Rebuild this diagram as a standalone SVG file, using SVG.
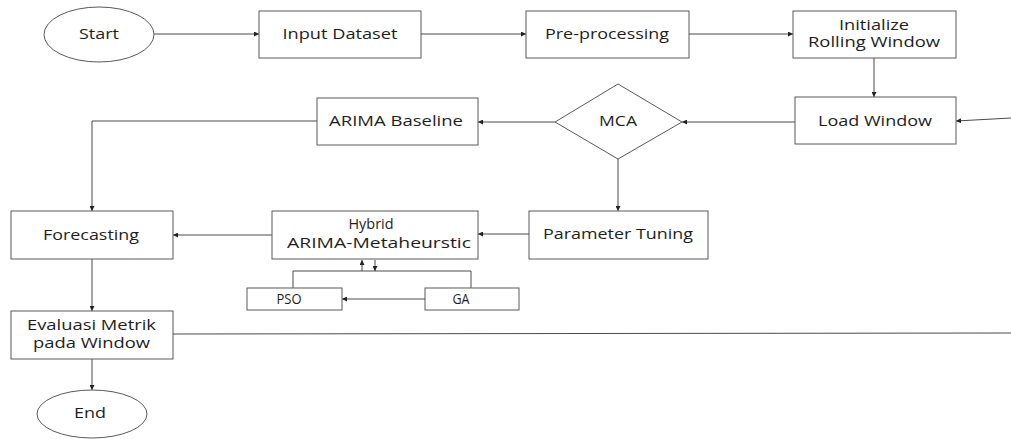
<svg xmlns="http://www.w3.org/2000/svg" width="1011" height="439" viewBox="0 0 1011 439">
  <style>
    .box { fill: #ffffff; stroke: #5a5a5a; stroke-width: 1; }
    .lbl { font-family: "Open Sans", "Liberation Sans", sans-serif; font-size: 14px; fill: #1e1e1e; text-anchor: middle; }
    .wire { fill: none; stroke: #4a4a4a; stroke-width: 1; }
  </style>
  <defs>
    <marker id="arrow" viewBox="0 0 10 10" refX="10" refY="5" markerWidth="5" markerHeight="5" orient="auto" markerUnits="userSpaceOnUse">
      <path d="M0,0 L10,5 L0,10 z" fill="#222222"/>
    </marker>
  </defs>
  <rect width="1011" height="439" fill="#ffffff"/>

  <!-- connectors -->
  <g id="connectors">
    <line class="wire" x1="154" y1="34" x2="259" y2="34" marker-end="url(#arrow)"/>
    <line class="wire" x1="421" y1="34" x2="526" y2="34" marker-end="url(#arrow)"/>
    <line class="wire" x1="689" y1="34" x2="793" y2="34" marker-end="url(#arrow)"/>
    <line class="wire" x1="874" y1="58" x2="874" y2="97" marker-end="url(#arrow)"/>
    <line class="wire" x1="1011" y1="118" x2="956" y2="121" marker-end="url(#arrow)"/>
    <line class="wire" x1="795" y1="122" x2="682" y2="122" marker-end="url(#arrow)"/>
    <line class="wire" x1="555" y1="122" x2="478" y2="122" marker-end="url(#arrow)"/>
    <polyline class="wire" points="317,121 92,121 92,211" marker-end="url(#arrow)"/>
    <line class="wire" x1="618" y1="159" x2="618" y2="211" marker-end="url(#arrow)"/>
    <line class="wire" x1="529" y1="234" x2="478" y2="234" marker-end="url(#arrow)"/>
    <line class="wire" x1="272" y1="235" x2="173" y2="235" marker-end="url(#arrow)"/>
    <line class="wire" x1="92" y1="259" x2="92" y2="311" marker-end="url(#arrow)"/>
    <line class="wire" x1="92" y1="359" x2="92" y2="390" marker-end="url(#arrow)"/>
    <line class="wire" x1="173" y1="334" x2="1011" y2="333"/>
    <polyline class="wire" points="293,288 293,271 471,271 471,288"/>
    <line class="wire" x1="362" y1="271" x2="362" y2="260" marker-end="url(#arrow)"/>
    <line class="wire" x1="375" y1="260" x2="375" y2="271" marker-end="url(#arrow)"/>
    <line class="wire" x1="425" y1="299" x2="342" y2="299" marker-end="url(#arrow)"/>
  </g>

  <g id="start">
    <ellipse class="box" cx="99" cy="34.5" rx="55" ry="27.5"/>
    <text class="lbl" x="99" y="39" textLength="40" lengthAdjust="spacingAndGlyphs">Start</text>
  </g>
  <g id="input-dataset">
    <rect class="box" x="259" y="11" width="162" height="47"/>
    <text class="lbl" x="340" y="39" textLength="115" lengthAdjust="spacingAndGlyphs">Input Dataset</text>
  </g>
  <g id="pre-processing">
    <rect class="box" x="526" y="11" width="163" height="47"/>
    <text class="lbl" x="607" y="39" textLength="124" lengthAdjust="spacingAndGlyphs">Pre-processing</text>
  </g>
  <g id="init-window">
    <rect class="box" x="793" y="11" width="163" height="47"/>
    <text class="lbl" x="874" y="30" textLength="70" lengthAdjust="spacingAndGlyphs">Initialize</text>
    <text class="lbl" x="874" y="47" textLength="132" lengthAdjust="spacingAndGlyphs">Rolling Window</text>
  </g>
  <g id="load-window">
    <rect class="box" x="795" y="97" width="161" height="47"/>
    <text class="lbl" x="875" y="126" textLength="114" lengthAdjust="spacingAndGlyphs">Load Window</text>
  </g>
  <g id="mca">
    <polygon class="box" points="618,84 682,122 618,159 555,122"/>
    <text class="lbl" x="618" y="126" textLength="38" lengthAdjust="spacingAndGlyphs">MCA</text>
  </g>
  <g id="arima-baseline">
    <rect class="box" x="317" y="98" width="161" height="47"/>
    <text class="lbl" x="396" y="126" textLength="134" lengthAdjust="spacingAndGlyphs">ARIMA Baseline</text>
  </g>
  <g id="parameter-tuning">
    <rect class="box" x="529" y="211" width="179" height="48"/>
    <text class="lbl" x="618" y="239" textLength="150" lengthAdjust="spacingAndGlyphs">Parameter Tuning</text>
  </g>
  <g id="hybrid">
    <rect class="box" x="272" y="211" width="206" height="48"/>
    <text class="lbl" x="371" y="229" textLength="45" lengthAdjust="spacingAndGlyphs">Hybrid</text>
    <text class="lbl" x="379" y="248" textLength="184" lengthAdjust="spacingAndGlyphs">ARIMA-Metaheurstic</text>
  </g>
  <g id="pso">
    <rect class="box" x="247" y="288" width="95" height="22"/>
    <text class="lbl" x="289" y="304" textLength="25" lengthAdjust="spacingAndGlyphs">PSO</text>
  </g>
  <g id="ga">
    <rect class="box" x="425" y="288" width="94" height="22"/>
    <text class="lbl" x="461" y="304" textLength="17" lengthAdjust="spacingAndGlyphs">GA</text>
  </g>
  <g id="forecasting">
    <rect class="box" x="11" y="211" width="162" height="48"/>
    <text class="lbl" x="91" y="240" textLength="96" lengthAdjust="spacingAndGlyphs">Forecasting</text>
  </g>
  <g id="evaluasi">
    <rect class="box" x="11" y="311" width="162" height="48"/>
    <text class="lbl" x="91.5" y="330" textLength="129" lengthAdjust="spacingAndGlyphs">Evaluasi Metrik</text>
    <text class="lbl" x="91.5" y="348" textLength="117" lengthAdjust="spacingAndGlyphs">pada Window</text>
  </g>
  <g id="end">
    <ellipse class="box" cx="92" cy="414" rx="55" ry="24"/>
    <text class="lbl" x="90" y="418" textLength="32" lengthAdjust="spacingAndGlyphs">End</text>
  </g>
</svg>
